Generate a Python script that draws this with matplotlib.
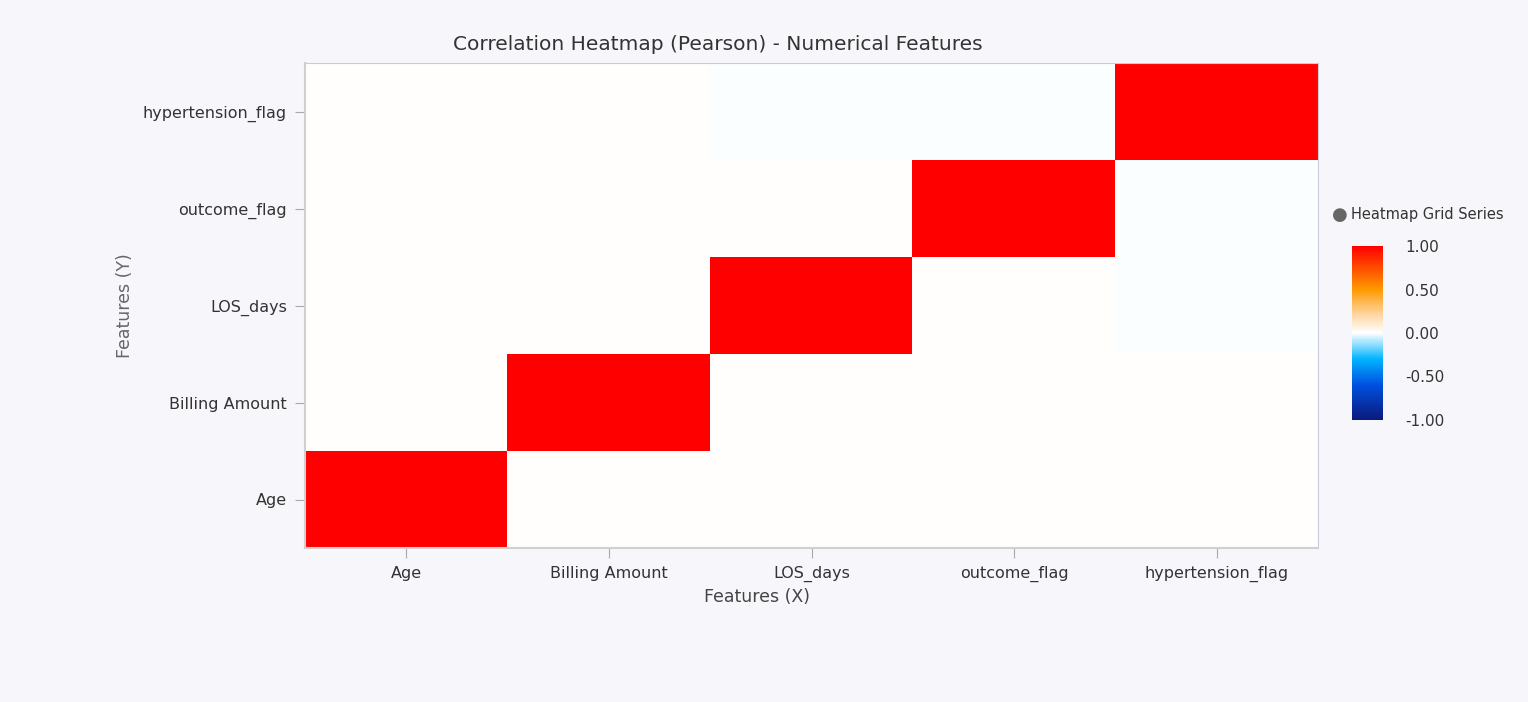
import matplotlib
matplotlib.use("Agg")
import matplotlib.pyplot as plt
import numpy as np
from matplotlib.colors import LinearSegmentedColormap

features = ["Age", "Billing Amount", "LOS_days", "outcome_flag", "hypertension_flag"]
corr = [
    [1.00, 0.00, 0.004, 0.00, 0.00],
    [0.00, 1.00, 0.00, 0.00, 0.00],
    [0.004, 0.00, 1.00, 0.00, -0.002],
    [0.00, 0.00, 0.00, 1.00, -0.004],
    [0.00, 0.00, -0.002, -0.004, 1.00],
]
cbar_ticks = [-1.0, -0.5, 0.0, 0.5, 1.0]

cmap = LinearSegmentedColormap.from_list("c", [
    (0.0, "#0a1a7a"), (0.2, "#0050e0"), (0.35, "#00b4ff"), (0.5, "#ffffff"),
    (0.6, "#ffd8a8"), (0.75, "#ff9a00"), (1.0, "#ff0000")])

fig = plt.figure(figsize=(15.28, 7.02), dpi=100)
fig.patch.set_facecolor("#f7f7fb")
ax = fig.add_axes([305/1528, 1-548/702, 1013/1528, 485/702])
data = np.array(corr)
n = len(features)
im = ax.imshow(data, cmap=cmap, vmin=-1, vmax=1, origin="lower", aspect="auto",
               extent=[-0.5, n-0.5, -0.5, n-0.5])
ax.set_xticks(range(n))
ax.set_xticklabels(features)
ax.set_yticks(range(n))
ax.set_yticklabels(features)
ax.tick_params(colors="#aaaaaa", labelcolor="#333333", labelsize=11.5, length=7, pad=6)
for s in ["top", "right"]:
    ax.spines[s].set_color("#c8ccd8")
for s in ["left", "bottom"]:
    ax.spines[s].set_color("#d0d0d0")
    ax.spines[s].set_linewidth(1.5)
fig.text(757/1528, 1-597/702, "Features (X)", fontsize=12.5, color="#444444", ha="center", va="center")
ax.set_ylabel("Features (Y)", fontsize=12.5, color="#666666", labelpad=6)
fig.text(718/1528, 1-45/702, "Correlation Heatmap (Pearson) - Numerical Features",
         fontsize=14.5, color="#333333", ha="center", va="center")

cax = fig.add_axes([1352/1528, 1-420/702, 31/1528, 174/702])
cb = fig.colorbar(im, cax=cax, ticks=cbar_ticks)
cb.ax.set_yticklabels([f"{t:.2f}" for t in cbar_ticks])
cb.ax.tick_params(length=0, labelsize=11, labelcolor="#333333", pad=16)
cb.outline.set_visible(False)

fig.text(1340/1528, 1-215/702, "\u25cf", fontsize=13, color="#666666", ha="center", va="center")
fig.text(1351/1528, 1-215/702, "Heatmap Grid Series", fontsize=10.5, color="#333333", va="center")

fig.savefig("out.png", dpi=100, facecolor=fig.get_facecolor())
